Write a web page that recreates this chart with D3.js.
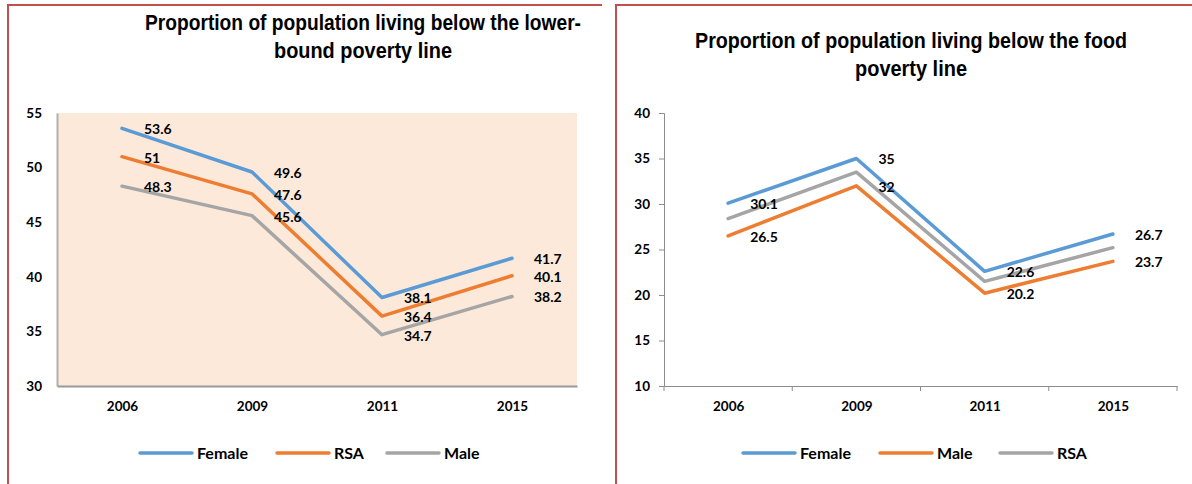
<!DOCTYPE html>
<html>
<head>
<meta charset="utf-8">
<script src="https://cdn.jsdelivr.net/npm/d3@7"></script>
<style>
  body { margin: 0; background: #fff; }
  svg { display: block; }
  .lbl { font-family: Lato, "Open Sans", sans-serif; font-weight: bold; fill: #000; }
  .ttl { font-family: "Liberation Sans", Arial, sans-serif; font-weight: bold; fill: #000; }
</style>
</head>
<body>
<svg width="1192" height="484"></svg>
<script>
"use strict";

// data
const years = ["2006", "2009", "2011", "2015"];

const lowerFemale = [53.6, 49.6, 38.1, 41.7];
const lowerRSA = [51, 47.6, 36.4, 40.1];
const lowerMale = [48.3, 45.6, 34.7, 38.2];
const lowerTicks = [30, 35, 40, 45, 50, 55];

const foodFemale = [30.1, 35, 22.6, 26.7];
const foodMale = [26.5, 32, 20.2, 23.7];
const foodRSA = [28.4, 33.5, 21.5, 25.2]; // not labelled in the original, estimated
const foodTicks = [10, 15, 20, 25, 30, 35, 40];

// excel palette: 1st blue, 2nd orange, 3rd gray
const palette = ["#5b9bd5", "#ed7d31", "#a5a5a5"];

const svg = d3.select("svg");

// red frames round each chart
const frame = "#c0504d";
svg.append("path").attr("d", "M8,484 V5 H602").attr("fill", "none").attr("stroke", frame).attr("stroke-width", 2);
svg.append("path").attr("d", "M616,484 V5 H1192").attr("fill", "none").attr("stroke", frame).attr("stroke-width", 2);

function drawChart(cfg) {
  const g = svg.append("g");

  const x = d3.scalePoint().domain(years).range([cfg.left, cfg.right]).padding(0.5);
  const y = d3.scaleLinear().domain(d3.extent(cfg.ticks)).range([cfg.bottom, cfg.top]);

  // title (narrow bold, squeezed to the width seen in the picture)
  cfg.title.forEach((t, i) => {
    g.append("text")
      .attr("class", "ttl")
      .attr("x", cfg.titleX)
      .attr("y", cfg.titleY + i * 28)
      .attr("text-anchor", "middle")
      .style("font-size", "22px")
      .attr("textLength", cfg.titleLen[i])
      .attr("lengthAdjust", "spacingAndGlyphs")
      .text(t);
  });

  if (cfg.fill) {
    g.append("rect")
      .attr("x", cfg.left).attr("y", cfg.top)
      .attr("width", cfg.right - cfg.left).attr("height", cfg.bottom - cfg.top)
      .attr("fill", cfg.fill);
  }

  // y axis
  const yAxis = g.append("g")
    .attr("transform", `translate(${cfg.left},0)`)
    .call(d3.axisLeft(y).tickValues(cfg.ticks).tickSize(cfg.fill ? 0 : 5).tickPadding(cfg.fill ? 15 : 9));
  yAxis.select(".domain").attr("stroke", cfg.fill ? "#b0b0b0" : "#8c8c8c").attr("stroke-width", cfg.fill ? 2 : 1);
  yAxis.selectAll(".tick line").attr("stroke", "#8c8c8c");
  yAxis.selectAll("text").attr("class", "lbl").style("font-size", "13.5px");

  // x axis
  const xAxis = g.append("g")
    .attr("transform", `translate(0,${cfg.bottom})`)
    .call(d3.axisBottom(x).tickSize(0).tickPadding(15));
  xAxis.select(".domain").attr("stroke", cfg.fill ? "#9a9a9a" : "#8c8c8c").attr("stroke-width", cfg.fill ? 2 : 1);
  xAxis.selectAll("text").attr("class", "lbl").style("font-size", "13.5px");

  if (!cfg.fill) {
    // tick marks between the categories
    const edges = years.map((d) => x(d) - x.step() / 2).concat([cfg.right]);
    g.selectAll("line.xtick")
      .data(edges)
      .enter()
      .append("line")
      .attr("class", "xtick")
      .attr("x1", (d) => d).attr("x2", (d) => d)
      .attr("y1", cfg.bottom).attr("y2", cfg.bottom + 5)
      .attr("stroke", "#8c8c8c");
  }

  const line = d3.line()
    .x((d, i) => x(years[i]))
    .y((d) => y(d));

  cfg.series.forEach((s, k) => {
    g.append("path")
      .datum(s.values)
      .attr("fill", "none")
      .attr("stroke", palette[k])
      .attr("stroke-width", 3.5)
      .attr("stroke-linejoin", "round")
      .attr("stroke-linecap", "round")
      .attr("d", line);
  });

  cfg.series.filter((s) => s.labels).forEach((s) => {
    g.selectAll(null)
      .data(s.values)
      .enter()
      .append("text")
      .attr("class", "lbl")
      .style("font-size", "14px")
      .attr("x", (d, i) => x(years[i]) + 22)
      .attr("y", (d) => y(d) + 1)
      .attr("dy", "0.35em")
      .text((d) => d);
  });

  // legend
  const leg = g.append("g").attr("transform", `translate(0,${cfg.legendY})`);
  cfg.series.forEach((s, i) => {
    const lx = cfg.legendX[i];
    leg.append("line")
      .attr("x1", lx).attr("x2", lx + 52)
      .attr("y1", 0).attr("y2", 0)
      .attr("stroke", palette[i])
      .attr("stroke-width", 3.5)
      .attr("stroke-linecap", "round");
    leg.append("text")
      .attr("class", "lbl")
      .style("font-size", "16px")
      .attr("x", lx + 57)
      .attr("y", 0)
      .attr("dy", "0.35em")
      .text(s.name);
  });
}

drawChart({
  left: 57, right: 577, top: 113, bottom: 386,
  ticks: lowerTicks,
  fill: "#fde9d9",
  title: ["Proportion of population living below the lower-", "bound poverty line"],
  titleX: 363, titleY: 30, titleLen: [436, 178],
  series: [
    { name: "Female", values: lowerFemale, labels: true },
    { name: "RSA", values: lowerRSA, labels: true },
    { name: "Male", values: lowerMale, labels: true }
  ],
  legendY: 453,
  legendX: [140, 277, 387]
});

drawChart({
  left: 664, right: 1177, top: 113, bottom: 386,
  ticks: foodTicks,
  fill: null,
  title: ["Proportion of population living below the food", "poverty line"],
  titleX: 911, titleY: 48, titleLen: [432, 112],
  series: [
    { name: "Female", values: foodFemale, labels: true },
    { name: "Male", values: foodMale, labels: true },
    { name: "RSA", values: foodRSA, labels: false }
  ],
  legendY: 453,
  legendX: [743, 880, 1000]
});
</script>
</body>
</html>
